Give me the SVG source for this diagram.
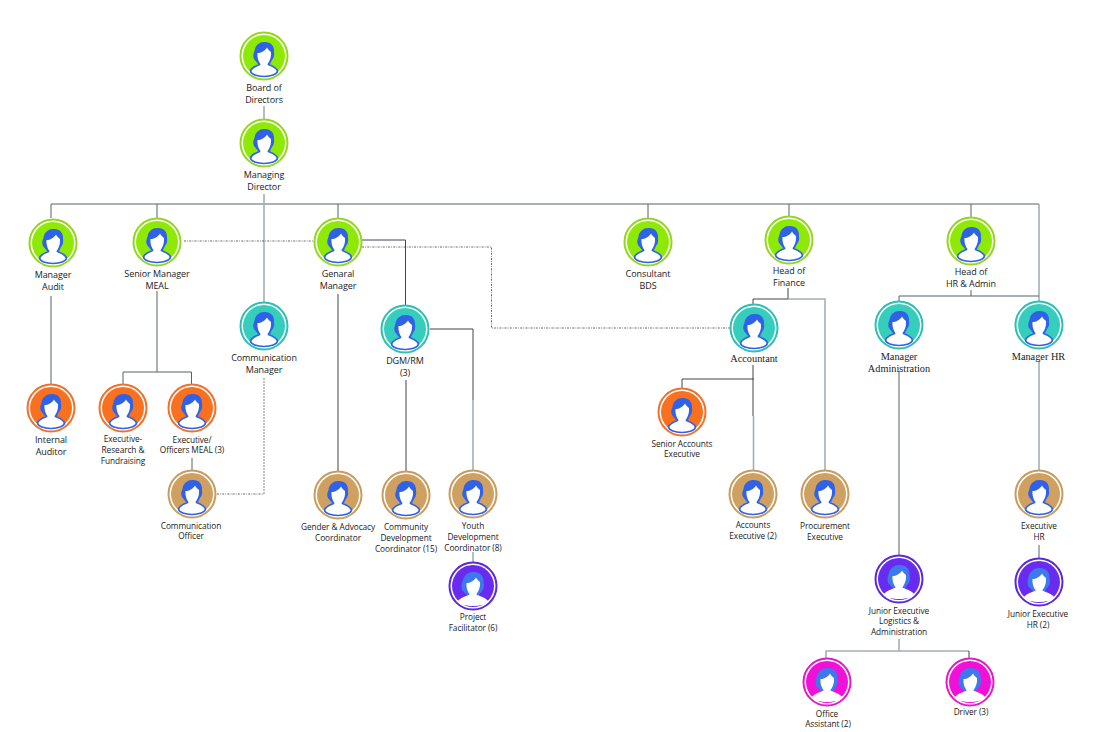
<svg xmlns="http://www.w3.org/2000/svg" width="1099" height="732" viewBox="0 0 1099 732">
<style>
text{font-family:"Open Sans","Liberation Sans",sans-serif;font-size:9px;letter-spacing:-.08px;fill:#1a1a1a;text-anchor:middle}
text.s{font-family:"Liberation Serif",serif;font-size:10.3px;letter-spacing:0;fill:#222}
text.n{font-size:8.3px}
.c path,.c line{fill:none}
.d{stroke:#56606a;stroke-width:1}
.g{stroke:#a3afb5;stroke-width:1.6}
.k{stroke:#3f464c;stroke-width:1}
.dot{stroke:#555;stroke-width:.9;stroke-dasharray:2 1.2 .8 1.2}
.dg{stroke:#a9a9a9;stroke-width:1.4;stroke-dasharray:2 1}
.ring{fill:#fff;stroke-width:2}
.lime .ring{stroke:#95d61f}.lime .f{fill:#8eea04}
.teal .ring{stroke:#2ebfb3}.teal .f{fill:#35cdbb}
.or .ring{stroke:#f0702c}.or .f{fill:#f9701f}
.tan .ring{stroke:#c89c5c}.tan .f{fill:#cfa05f}
.pur .ring{stroke:#5a2bd8}.pur .f{fill:#6a2bf0}
.mag .ring{stroke:#e21cc8}.mag .f{fill:#f210d8}
</style>
<defs>
<symbol id="p" viewBox="-24 -24 48 48" overflow="visible">
<path d="M-10 3C-11.500 0-10.500-3-9.500-5C-9-11-4-14.500 1-14C7-14 10.500-10 10-4C10.500-1 10 2 8 4L6 8H-6Z" fill="#2f62e8"/>
<path d="M-4.500 8.500C-8 10-12.500 11.500-13.500 15C-13 18.500-7 20.500 0 20.500C7 20.500 13 18.500 13.500 15C12.500 11.500 8 10 4.500 8.500Z" fill="#fff" stroke="#2f62e8" stroke-width="1.7"/>
<path d="M-6.500-3C-3-3 1-5 3-8.500C4-6 6-5 7-4C7.500 2 5 6 3.500 8C4 10 5 11.500 5 12L-5 12C-5 11.500-4 10-3.500 8C-5 6-7 2-6.500-3Z" fill="#fff"/>
</symbol>
<symbol id="q" viewBox="-24 -24 48 48" overflow="visible">
<path d="M-11 4C-12-1-11-4-10-6C-9-11-4-14.500 1-14C7-14 11-10 10.500-4C11.500-1 11 3 9 5L6 9H-6Z" fill="#3d78ec"/>
<path d="M-4.500 9C-8 10.500-13 12-15.500 15.500C-10 21.500 10 21.500 15.500 15.500C13 12 8 10.500 4.500 9Z" fill="#fff"/>
<path d="M-6.500-3C-3-3 1-5 3-8.500C4-6 6-5 7-4C7.500 2 5 6 3.500 8C4 10 5 11.500 5 12L-5 12C-5 11.500-4 10-3.500 8C-5 6-7 2-6.500-3Z" fill="#fff"/>
</symbol>
</defs>
<rect width="1099" height="732" fill="#fff"/>
<g id="connectors" class="c">
<line class="g" x1="264" y1="106" x2="264" y2="119"/>
<path class="d" d="M51 218V204H1039M157 204V218M338 204V218M648 204V218M789 204V216M971 204V217"/>
<line class="g" x1="1039" y1="204" x2="1039" y2="301"/>
<line class="g" x1="264" y1="194" x2="264" y2="302"/>
<line class="d" x1="51" y1="296" x2="51" y2="384"/>
<path class="d" d="M157 291V372M123 384V372H191.500V384"/>
<line class="d" x1="192" y1="458" x2="192" y2="470"/>
<path class="dot" d="M184 241H315"/>
<path class="dg" d="M264 378V494"/>
<path class="dot" d="M217 494H264"/>
<path class="k" d="M338 294V472M362 240H405.500V305"/>
<path class="dot" d="M362 247H491.500V328H730"/>
<path class="k" d="M430 329H473V400"/>
<line class="g" x1="473" y1="400" x2="473" y2="470"/>
<line class="k" x1="406" y1="380" x2="406" y2="471"/>
<line class="g" x1="473" y1="552" x2="473" y2="562"/>
<path class="k" d="M788 288V299M753 304V299H788"/>
<path class="g" d="M788 299H825V470"/>
<path class="k" d="M753 365V416M682 388V379H754"/>
<line class="g" x1="753.500" y1="416" x2="753.500" y2="470"/>
<path class="d" d="M971 290V296M899 301V296H1039"/>
<line class="d" x1="899" y1="371" x2="899" y2="555"/>
<line class="g" x1="1039" y1="361" x2="1039" y2="470"/>
<line class="d" x1="1039" y1="545" x2="1039" y2="558"/>
<path class="g" d="M899 639V651M826 658V651H969"/>
<line class="k" x1="969" y1="651" x2="969" y2="658"/>
</g>
<g id="board" class="lime"><circle class="ring" cx="264" cy="56" r="23.500"/><circle class="f" cx="264" cy="56" r="21"/><use href="#p" x="240" y="32" width="48" height="48"/><text x="264" y="91">Board of</text><text x="264" y="103">Directors</text></g>
<g id="managing" class="lime"><circle class="ring" cx="264" cy="143" r="23.500"/><circle class="f" cx="264" cy="143" r="21"/><use href="#p" x="240" y="119" width="48" height="48"/><text x="264" y="178">Managing</text><text x="264" y="190">Director</text></g>
<g id="audit" class="lime"><circle class="ring" cx="53" cy="243" r="23.500"/><circle class="f" cx="53" cy="243" r="21"/><use href="#p" x="29" y="219" width="48" height="48"/><text x="53" y="278">Manager</text><text x="53" y="290">Audit</text></g>
<g id="meal" class="lime"><circle class="ring" cx="157" cy="242" r="23.500"/><circle class="f" cx="157" cy="242" r="21"/><use href="#p" x="133" y="218" width="48" height="48"/><text x="157" y="277">Senior Manager</text><text x="157" y="289">MEAL</text></g>
<g id="comm-manager" class="teal"><circle class="ring" cx="264" cy="326" r="23.500"/><circle class="f" cx="264" cy="326" r="21"/><use href="#p" x="240" y="302" width="48" height="48"/><text x="264" y="361">Communication</text><text x="264" y="373">Manager</text></g>
<g id="general" class="lime"><circle class="ring" cx="338" cy="242" r="23.500"/><circle class="f" cx="338" cy="242" r="21"/><use href="#p" x="314" y="218" width="48" height="48"/><text x="338" y="277">Genaral</text><text x="338" y="289">Manager</text></g>
<g id="dgm" class="teal"><circle class="ring" cx="405" cy="329" r="23.500"/><circle class="f" cx="405" cy="329" r="21"/><use href="#p" x="381" y="305" width="48" height="48"/><text x="405" y="364">DGM/RM</text><text x="405" y="376">(3)</text></g>
<g id="consultant" class="lime"><circle class="ring" cx="648" cy="242" r="23.500"/><circle class="f" cx="648" cy="242" r="21"/><use href="#p" x="624" y="218" width="48" height="48"/><text x="648" y="277">Consultant</text><text x="648" y="289">BDS</text></g>
<g id="finance" class="lime"><circle class="ring" cx="789" cy="240" r="23.500"/><circle class="f" cx="789" cy="240" r="21"/><use href="#p" x="765" y="216" width="48" height="48"/><text x="789" y="274">Head of</text><text x="789" y="286">Finance</text></g>
<g id="hr-admin" class="lime"><circle class="ring" cx="971" cy="241" r="23.500"/><circle class="f" cx="971" cy="241" r="21"/><use href="#p" x="947" y="217" width="48" height="48"/><text x="971" y="275">Head of</text><text x="971" y="287">HR &amp; Admin</text></g>
<g id="accountant" class="teal"><circle class="ring" cx="754" cy="328" r="23.500"/><circle class="f" cx="754" cy="328" r="21"/><use href="#p" x="730" y="304" width="48" height="48"/><text class="s" x="754" y="362">Accountant</text></g>
<g id="mgr-admin" class="teal"><circle class="ring" cx="899" cy="325" r="23.500"/><circle class="f" cx="899" cy="325" r="21"/><use href="#p" x="875" y="301" width="48" height="48"/><text class="s" x="899" y="360">Manager</text><text class="s" x="899" y="372">Administration</text></g>
<g id="mgr-hr" class="teal"><circle class="ring" cx="1039" cy="325" r="23.500"/><circle class="f" cx="1039" cy="325" r="21"/><use href="#p" x="1015" y="301" width="48" height="48"/><text class="s" x="1038.500" y="360">Manager HR</text></g>
<g id="internal" class="or"><circle class="ring" cx="51" cy="408" r="23.500"/><circle class="f" cx="51" cy="408" r="21"/><use href="#p" x="27" y="384" width="48" height="48"/><text x="51" y="443">Internal</text><text x="51" y="455">Auditor</text></g>
<g id="research" class="or"><circle class="ring" cx="123" cy="408" r="23.500"/><circle class="f" cx="123" cy="408" r="21"/><use href="#p" x="99" y="384" width="48" height="48"/><text class="n" x="123" y="442">Executive-</text><text class="n" x="123" y="453">Research &amp;</text><text class="n" x="123" y="464">Fundraising</text></g>
<g id="officers" class="or"><circle class="ring" cx="192" cy="408" r="23.500"/><circle class="f" cx="192" cy="408" r="21"/><use href="#p" x="168" y="384" width="48" height="48"/><text class="n" x="192" y="443">Executive/</text><text class="n" x="192" y="453">Officers MEAL (3)</text></g>
<g id="comm-officer" class="tan"><circle class="ring" cx="192" cy="494" r="23.500"/><circle class="f" cx="192" cy="494" r="21"/><use href="#p" x="168" y="470" width="48" height="48"/><text class="n" x="191" y="529">Communication</text><text class="n" x="191" y="539">Officer</text></g>
<g id="gender" class="tan"><circle class="ring" cx="338" cy="495" r="23.500"/><circle class="f" cx="338" cy="495" r="21"/><use href="#p" x="314" y="471" width="48" height="48"/><text class="n" x="338" y="530">Gender &amp; Advocacy</text><text class="n" x="338" y="541">Coordinator</text></g>
<g id="community" class="tan"><circle class="ring" cx="406" cy="495" r="23.500"/><circle class="f" cx="406" cy="495" r="21"/><use href="#p" x="382" y="471" width="48" height="48"/><text class="n" x="406" y="530">Community</text><text class="n" x="406" y="541">Development</text><text class="n" x="406" y="552">Coordinator (15)</text></g>
<g id="youth" class="tan"><circle class="ring" cx="473" cy="494" r="23.500"/><circle class="f" cx="473" cy="494" r="21"/><use href="#p" x="449" y="470" width="48" height="48"/><text class="n" x="473" y="529">Youth</text><text class="n" x="473" y="540">Development</text><text class="n" x="473" y="551">Coordinator (8)</text></g>
<g id="project" class="pur"><circle class="ring" cx="473" cy="586" r="23.500"/><circle class="f" cx="473" cy="586" r="21"/><use href="#q" x="449" y="562" width="48" height="48"/><text class="n" x="473" y="620">Project</text><text class="n" x="473" y="631">Facilitator (6)</text></g>
<g id="senior-accounts" class="or"><circle class="ring" cx="682" cy="412" r="23.500"/><circle class="f" cx="682" cy="412" r="21"/><use href="#p" x="658" y="388" width="48" height="48"/><text class="n" x="682" y="447">Senior Accounts</text><text class="n" x="682" y="457">Executive</text></g>
<g id="accounts-exec" class="tan"><circle class="ring" cx="753" cy="494" r="23.500"/><circle class="f" cx="753" cy="494" r="21"/><use href="#p" x="729" y="470" width="48" height="48"/><text class="n" x="753" y="528">Accounts</text><text class="n" x="753" y="539">Executive (2)</text></g>
<g id="procurement" class="tan"><circle class="ring" cx="825" cy="494" r="23.500"/><circle class="f" cx="825" cy="494" r="21"/><use href="#p" x="801" y="470" width="48" height="48"/><text class="n" x="825" y="529">Procurement</text><text class="n" x="825" y="540">Executive</text></g>
<g id="exec-hr" class="tan"><circle class="ring" cx="1039" cy="494" r="23.500"/><circle class="f" cx="1039" cy="494" r="21"/><use href="#p" x="1015" y="470" width="48" height="48"/><text class="n" x="1039" y="529">Executive</text><text class="n" x="1039" y="540">HR</text></g>
<g id="jr-logistics" class="pur"><circle class="ring" cx="899" cy="579" r="23.500"/><circle class="f" cx="899" cy="579" r="21"/><use href="#q" x="875" y="555" width="48" height="48"/><text class="n" x="899" y="614">Junior Executive</text><text class="n" x="899" y="624">Logistics &amp;</text><text class="n" x="899" y="635">Administration</text></g>
<g id="jr-hr" class="pur"><circle class="ring" cx="1039" cy="582" r="23.500"/><circle class="f" cx="1039" cy="582" r="21"/><use href="#q" x="1015" y="558" width="48" height="48"/><text class="n" x="1038" y="617">Junior Executive</text><text class="n" x="1038" y="628">HR (2)</text></g>
<g id="office" class="mag"><circle class="ring" cx="827" cy="682" r="23.500"/><circle class="f" cx="827" cy="682" r="21"/><use href="#q" x="803" y="658" width="48" height="48"/><text class="n" x="827" y="717">Office</text><text class="n" x="828" y="727">Assistant (2)</text></g>
<g id="driver" class="mag"><circle class="ring" cx="970" cy="682" r="23.500"/><circle class="f" cx="970" cy="682" r="21"/><use href="#q" x="946" y="658" width="48" height="48"/><text class="n" x="971" y="715">Driver (3)</text></g>
</svg>
